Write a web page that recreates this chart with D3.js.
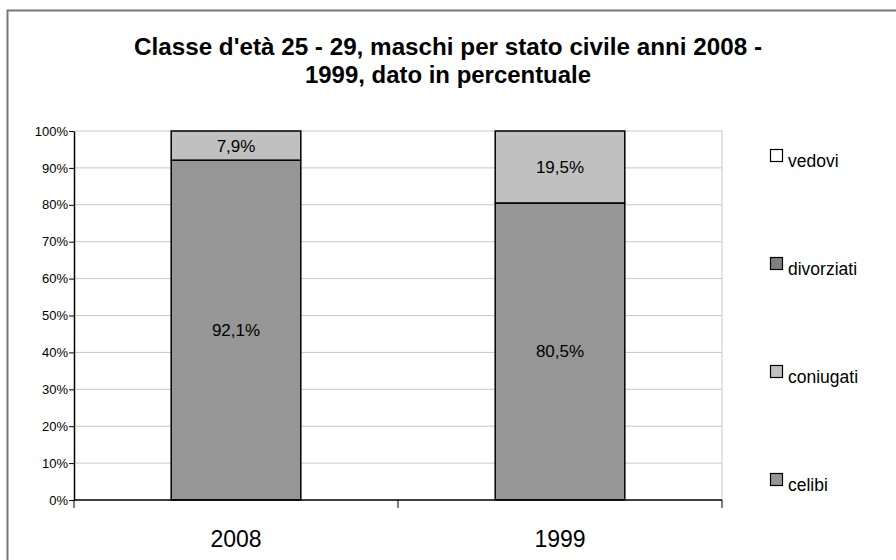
<!DOCTYPE html>
<html><head><meta charset="utf-8">
<script src="https://cdn.jsdelivr.net/npm/d3@7"></script>
<style>body{margin:0;background:#fff}svg{display:block;font-family:"Liberation Sans",Arial,sans-serif}</style>
</head><body>
<svg id="c" width="896" height="560"></svg>
<script>
const years = ["2008", "1999"];
const seriesNames = ["celibi", "coniugati", "divorziati", "vedovi"];
const celibi = [92.1, 80.5];
const coniugati = [7.9, 19.5];
const divorziati = [0, 0];
const vedovi = [0, 0];
const yTicks = [0,10,20,30,40,50,60,70,80,90,100];
const colors = {celibi:"#969696", coniugati:"#c0c0c0", divorziati:"#808080", vedovi:"#ffffff"};
const titleLines = ["Classe d'età 25 - 29, maschi per stato civile anni 2008 -", "1999, dato in percentuale"];
const titleWidths = [628, 286];

const svg = d3.select("#c");
svg.append("rect").attr("x",7.5).attr("y",10.5).attr("width",900).attr("height",600)
  .attr("fill","#fff").attr("stroke","#777").attr("stroke-width",2);

const L=74, R=722, T=131, B=500;
const x = d3.scaleBand().domain(years).range([L,R]).paddingInner(0.6).paddingOuter(0.3);
const y = d3.scaleLinear().domain([0,100]).range([B,T]);

svg.append("g").selectAll("line").data(yTicks.filter(d=>d>0)).join("line")
  .attr("x1",L).attr("x2",R).attr("y1",d=>y(d)).attr("y2",d=>y(d))
  .attr("stroke","#c8c8c8").attr("stroke-width",1);
svg.append("line").attr("x1",R).attr("x2",R).attr("y1",T).attr("y2",B).attr("stroke","#c8c8c8");

const table = years.map((yr,i)=>({year:yr, celibi:celibi[i], coniugati:coniugati[i], divorziati:divorziati[i], vedovi:vedovi[i]}));
const stack = d3.stack().keys(seriesNames)(table);

const g = svg.append("g");
stack.forEach(s=>{
  g.selectAll(null).data(s.filter(d=>d[1]-d[0]>0)).join("rect")
    .attr("x",d=>x(d.data.year)).attr("width",x.bandwidth())
    .attr("y",d=>y(d[1])).attr("height",d=>y(d[0])-y(d[1]))
    .attr("fill",colors[s.key]).attr("stroke","#000").attr("stroke-width",1.5);
  g.selectAll(null).data(s.filter(d=>d[1]-d[0]>0)).join("text")
    .attr("x",d=>x(d.data.year)+x.bandwidth()/2).attr("y",d=>(y(d[0])+y(d[1]))/2+6)
    .attr("text-anchor","middle").attr("font-size",17).attr("fill","#000")
    .text(d=>d3.format(".1f")(d[1]-d[0]).replace(".",",")+"%");
});

const ya = svg.append("g").attr("transform",`translate(${L},0)`)
  .call(d3.axisLeft(y).tickValues(yTicks).tickFormat(d=>d+"%").tickSize(5).tickSizeOuter(0));
ya.select(".domain").attr("stroke","#000").attr("stroke-width",1.5);
ya.selectAll(".tick line").attr("stroke","#000");
ya.selectAll("text").attr("font-size",13).attr("font-family","Liberation Sans, Arial, sans-serif").attr("fill","#000").attr("x",-6);

const xa = svg.append("g").attr("transform",`translate(0,${B})`);
xa.append("line").attr("x1",L).attr("x2",R).attr("stroke","#000").attr("stroke-width",1.5);
const bounds = [L, (x(years[0])+x.bandwidth()+x(years[1]))/2, R];
xa.selectAll(".tk").data(bounds).join("line").attr("x1",d=>d).attr("x2",d=>d).attr("y1",0).attr("y2",8).attr("stroke","#000");
xa.selectAll(".lbl").data(years).join("text")
  .attr("x",d=>x(d)+x.bandwidth()/2).attr("y",47).attr("text-anchor","middle")
  .attr("font-size",23).attr("fill","#000").text(d=>d);

svg.append("g").selectAll("text").data(titleLines).join("text")
  .attr("x",448).attr("y",(d,i)=>55+i*28).attr("text-anchor","middle")
  .attr("font-size",23).attr("font-weight","bold").attr("fill","#000")
  .attr("textLength",(d,i)=>titleWidths[i]).attr("lengthAdjust","spacingAndGlyphs").text(d=>d);

const legendOrder = ["vedovi","divorziati","coniugati","celibi"];
const lg = svg.append("g");
legendOrder.forEach((k,i)=>{
  const yy = 167 + i*108;
  lg.append("rect").attr("x",770.5).attr("y",yy-17.5).attr("width",12).attr("height",12)
    .attr("fill",colors[k]).attr("stroke","#000").attr("stroke-width",1.2);
  lg.append("text").attr("x",788).attr("y",yy).attr("font-size",17.5).attr("fill","#000").text(k);
});
</script>
</body></html>
